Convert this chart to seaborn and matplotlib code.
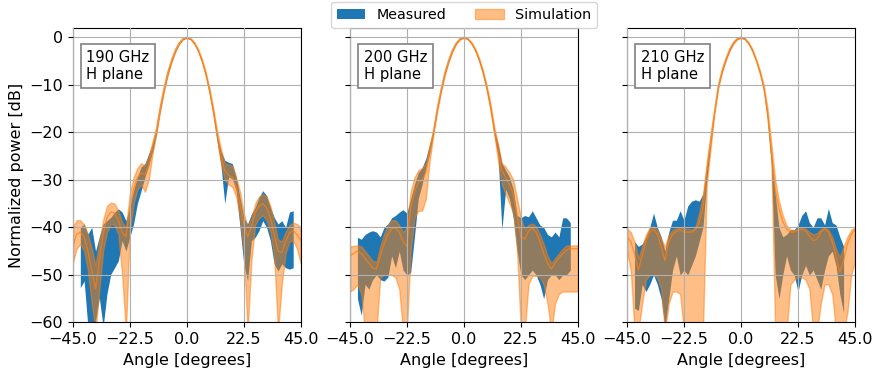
import matplotlib
matplotlib.use("Agg")
import matplotlib.pyplot as plt
import seaborn as sns
import numpy as np

nan = np.nan

angles = [-45, -43.5, -42, -40.5, -39, -37.5, -36, -34.5, -33, -31.5, -30, -28.5, -27, -25.5,
          -24, -22.5, -21, -19.5, -18, -16.5, -15, -13.5, -12, -10.5, -9, -7.5, -6, -4.5, -3,
          -1.5, 0, 1.5, 3, 4.5, 6, 7.5, 9, 10.5, 12, 13.5, 15, 16.5, 18, 19.5, 21, 22.5, 24,
          25.5, 27, 28.5, 30, 31.5, 33, 34.5, 36, 37.5, 39, 40.5, 42, 43.5, 45]

freqs = ["190 GHz", "200 GHz", "210 GHz"]

# ---- 190 GHz ----
sim190_mid = [-44, -41.5, -41, -42, -45, -49, -53, -47, -41.5, -38, -36.8, -37, -38.5, -41,
              -42, -36, -32, -29.5, -28.5, -29, -27, -23, -19.5, -14.8, -10.8, -7.4, -4.8, -2.7, -1.2,
              -0.3, 0, -0.3, -1.2, -2.7, -4.8, -7.6, -11.2, -15.5, -20.5, -25, -28, -29, -29.5, -31.5, -35, -39.3, -42,
              -40, -37, -35.5, -35, -35.8, -38, -41.5, -45, -45.3, -43, -41.2, -40.7, -41.5, -42.8]
sim190_hi = [-40, -38.5, -38.5, -39.5, -41.5, -44.5, -48, -43, -38.5, -35.5, -34.8, -35, -36.5, -39,
             -40, -33, -29.5, -27.5, -26.5, -27, -25, -22, -19, -14.4, -10.5, -7.1, -4.6, -2.5, -1.05,
             -0.2, 0, -0.2, -1.05, -2.5, -4.6, -7.3, -10.8, -15, -19.8, -23.5, -26.5, -26.8, -27, -29.5, -32.5, -37, -40,
             -38, -35, -33.5, -33, -33.5, -35.5, -39, -42.5, -43, -41, -39.5, -39, -39.3, -40]
sim190_lo = [-47.5, -44.5, -43.5, -45, -49, -56, -62, -53, -45, -41, -39.3, -39.5, -41.5, -50,
             -62, -41, -35, -32, -31, -32.5, -30, -24.5, -20.3, -15.5, -11.4, -7.9, -5.2, -3, -1.4,
             -0.45, -0.15, -0.45, -1.4, -3, -5.2, -8.1, -11.8, -16.3, -21.5, -26.5, -30, -31, -31.5, -33.5, -38, -45, -62,
             -47, -39.5, -38, -37.5, -38.5, -41, -46, -62, -52, -45.5, -43, -42.8, -44.5, -47.7]
meas190_hi = [nan, nan, -40, -39.3, -41.4, -40, -45, -42, -39.3, -38.6, -37.9, -36.8, -36.1, -36.8,
              -38.6, -35.8, -32.3, -29.4, -27.3, -26.6, -24.5, -22.5, -19.8, -15, -11, -7.5, -4.9, -2.8, -1.25,
              -0.35, -0.05, -0.35, -1.25, -2.8, -4.9, -7.7, -11.3, -15.6, -20.8, -24, -25.9, -26.3, -26.6, -29.4, -33.7, -37.9, -39.3,
              -37.2, -35.8, -33.7, -32.3, -33.3, -35.8, -37.9, -39.3, -38.6, -40, -36.8, -36.5, nan, nan]
meas190_lo = [nan, nan, -52.7, -51.3, -61, -61, -59.7, -54.8, -61, -54, -49.9, -48.5, -47, -42.8,
              -45, -42.1, -39.3, -35, -32.3, -29.4, -27, -24, -20.5, -15.6, -11.5, -8, -5.3, -3.1, -1.5,
              -0.5, -0.2, -0.5, -1.5, -3.1, -5.3, -8.2, -12, -16.5, -22, -27, -35, -29.4, -29.8, -32.3, -40, -47.7, -51.3,
              -42.8, -42.1, -40.7, -38.6, -40, -42.8, -47.7, -49.2, -47.7, -48.5, -48.8, -48.5, nan, nan]

# ---- 200 GHz ----
sim200_mid = [-46, -45.5, -45, -45.5, -46.5, -47.5, -48.5, -48.8, -46, -43.5, -41.5, -40.3, -40.1, -41,
              -43, -44, -36, -32.5, -30.5, -30, -28.5, -24, -19.8, -15, -11, -7.5, -4.8, -2.7, -1.2,
              -0.3, 0, -0.3, -1.2, -2.6, -4.6, -7.2, -10.5, -14.5, -19.5, -24, -28, -29.5, -31, -33, -37.5, -42, -42.5,
              -40.8, -40.2, -41, -43, -45.5, -47.5, -48.8, -47.5, -46.5, -45.5, -44.8, -44.5, -44.5, -44.5]
sim200_hi = [-44, -43.9, -43.8, -44, -45, -46, -47, -47.3, -44, -41.5, -39.5, -38.5, -38.5, -39.5,
             -41, -40, -32.5, -29.5, -28, -27.5, -26.5, -22.8, -19.4, -14.6, -10.7, -7.2, -4.6, -2.5, -1.05,
             -0.2, 0, -0.2, -1.05, -2.4, -4.4, -6.9, -10.1, -14, -18.9, -22.6, -26.5, -27.3, -28.5, -30, -34, -38, -40.5,
             -39.5, -39.2, -39.8, -41.5, -43.5, -46, -47.5, -46.5, -45.5, -44.5, -43.8, -43.8, -43.8, -43.8]
sim200_lo = [-53.5, -53, -52, -54, -62, -62, -62, -62, -50.5, -50, -50, -50, -50.5, -53,
             -62, -62, -45, -38, -36.5, -36.5, -34, -26, -20.5, -15.6, -11.5, -8, -5.2, -3, -1.4,
             -0.45, -0.15, -0.45, -1.4, -2.9, -5, -7.7, -11.1, -15.3, -20.5, -26, -31, -33, -35, -37, -45, -62, -62,
             -52, -50.2, -50.2, -50.5, -52, -56, -62, -56, -54, -53.5, -53.5, -53.5, -53.5, -53.5]
meas200_hi = [nan, nan, -42.1, -42.5, -41.5, -41, -40.7, -41, -42, -40, -39.3, -38, -37.5, -36.8,
              -36.3, -37, -34, -31, -28.5, -27.5, -25.5, -22.5, -19.6, -14.9, -10.9, -7.4, -4.8, -2.7, -1.2,
              -0.3, -0.05, -0.3, -1.2, -2.6, -4.6, -7.2, -10.5, -14.5, -19.5, -22.5, -26.5, -28, -29.5, -32, -37.5, -38, -37.5,
              -37.8, -36.5, -38, -39.5, -40, -41.5, -42, -41, -42, -38, -38, -39, nan, nan]
meas200_lo = [nan, nan, -55, -58.5, -52, -53, -51, -50, -51, -51.3, -50.5, -46, -48.5, -45,
              -49, -50, -49.5, -42, -34, -31, -27.5, -24.5, -20.3, -15.5, -11.4, -7.9, -5.2, -3, -1.4,
              -0.45, -0.2, -0.45, -1.4, -2.9, -5, -7.7, -11.1, -15.3, -20.5, -25, -40.5, -32, -34, -38, -45, -50, -51,
              -50, -49, -50, -52, -55, -51, -50, -50, -51, -50, -50, -49, nan, nan]

# ---- 210 GHz ----
sim210_mid = [-42, -43, -45.5, -49, -46, -43, -41, -40.4, -41.5, -44, -47, -43, -41.5, -40.8,
              -40.5, -41, -41, -41, -40.5, -39, -36, -28, -21.5, -15.8, -10.4, -7.1, -4.6, -2.6, -1.15,
              -0.3, 0, -0.3, -1.2, -2.7, -4.8, -7.3, -10.5, -16, -24, -32, -36, -38.8, -40.3, -41, -41, -40.6, -40.4,
              -40.8, -41.8, -42.8, -42.5, -41, -40.4, -41, -43, -46, -49.5, -47, -43.5, -41.5, -40.5]
sim210_hi = [-40.2, -41, -43, -46.5, -44, -41.5, -40, -39.8, -40.5, -42.5, -44, -41.5, -40.5, -40.2,
             -40, -40.3, -40.3, -40.5, -40, -37, -33, -26.5, -21, -15.4, -10.1, -6.8, -4.4, -2.4, -1,
             -0.2, 0, -0.2, -1.05, -2.5, -4.6, -7, -10.1, -15, -22.5, -30, -34.5, -37.5, -39.6, -40.5, -40.6, -40.2, -40.1,
             -40.3, -41, -41.5, -41.2, -40.4, -40, -40.5, -42, -44.5, -46.3, -44, -42, -40.5, -40]
sim210_lo = [-45, -49, -62, -62, -56, -51, -50, -50, -50.5, -53, -62, -56, -53.5, -53.5,
             -54, -62, -62, -62, -62, -62, -62, -31, -23.5, -16.3, -10.8, -7.5, -4.9, -2.9, -1.35,
             -0.45, -0.15, -0.45, -1.4, -3, -5.1, -7.7, -11, -17, -26, -62, -62, -62, -62, -52, -51, -50.5, -50.5,
             -51, -53, -62, -62, -56, -52, -52, -54, -62, -62, -62, -58, -50, -47]
meas210_hi = [nan, nan, -43, -44, -43.5, -42, -40, -37, -40, -42, -45, -41, -38.5, -38.5,
              -36.5, -38.5, -35.5, -34.5, -34.2, -34.5, -33, -27.5, -21.8, -15.6, -10.3, -7, -4.5, -2.5, -1.1,
              -0.3, -0.05, -0.3, -1.2, -2.7, -4.8, -7.4, -10.8, -16.5, -25, -33, -40, -42, -41.5, -40.5, -40.5, -39.5, -37.5,
              -36.5, -39, -40, -38, -38, -39.5, -36, -39, -39.5, -42, -44, nan, nan, nan]
meas210_lo = [nan, nan, -57, -57.5, -52, -53.5, -52, -50, -52, -55, -61, -55, -49, -46,
              -50, -49, -50, -48, -46, -43, -40, -30, -22.8, -16.2, -10.8, -7.4, -4.9, -2.9, -1.35,
              -0.45, -0.2, -0.45, -1.4, -3, -5.1, -7.8, -11.3, -17.5, -27, -50, -55, -50, -46, -49, -50, -53.5, -50,
              -48, -50, -49, -51, -53, -49, -46, -45, -48, -54, -58, nan, nan, nan]

panels = [
    (sim190_mid, sim190_lo, sim190_hi, meas190_lo, meas190_hi),
    (sim200_mid, sim200_lo, sim200_hi, meas200_lo, meas200_hi),
    (sim210_mid, sim210_lo, sim210_hi, meas210_lo, meas210_hi),
]

plt.rcParams["font.size"] = 10
plt.rcParams["xtick.labelsize"] = 11.5
plt.rcParams["ytick.labelsize"] = 11.5
plt.rcParams["axes.labelsize"] = 11.5

fig, axes = plt.subplots(1, 3, figsize=(8.72, 3.82), dpi=100, sharey=True)
fig.subplots_adjust(left=0.0834, right=0.9805, bottom=0.156, top=0.9275, wspace=0.215)

for ax, freq, (mid, lo, hi, mlo, mhi) in zip(axes, freqs, panels):
    h_meas = ax.fill_between(angles, mlo, mhi, color="tab:blue", lw=0)
    h_sim = ax.fill_between(angles, lo, hi, color="tab:orange", alpha=0.5, lw=1)
    sns.lineplot(x=angles, y=mid, ax=ax, color="tab:orange", lw=1, alpha=0.7)
    ax.set_xlim(-45, 45)
    ax.set_ylim(-60, 2)
    ax.set_xticks([-45, -22.5, 0, 22.5, 45])
    ax.set_yticks([0, -10, -20, -30, -40, -50, -60])
    ax.grid(True)
    ax.set_axisbelow(False)
    ax.set_xlabel("Angle [degrees]")
    ax.text(0.06, 0.925, freq + "\nH plane", transform=ax.transAxes, ha="left", va="top",
            fontsize=10.6, bbox=dict(boxstyle="square,pad=0.4", fc="white", ec="gray", lw=1.2))

axes[0].set_ylabel("Normalized power [dB]")
axes[1].legend([h_meas, h_sim], ["Measured", "Simulation"], loc="lower center",
               bbox_to_anchor=(0.5, 1.0), borderaxespad=0, ncol=2, fontsize=10.3)

plt.savefig("out.png", dpi=100)
